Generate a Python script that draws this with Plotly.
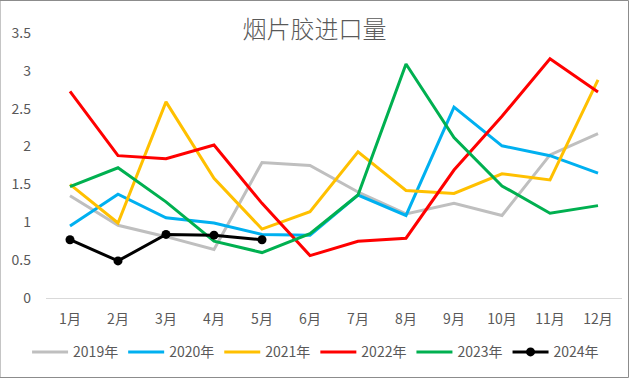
import plotly.graph_objects as go

months = ["1月", "2月", "3月", "4月", "5月", "6月", "7月", "8月", "9月", "10月", "11月", "12月"]
s2019 = [1.35, 0.96, 0.81, 0.64, 1.79, 1.75, 1.40, 1.11, 1.25, 1.09, 1.89, 2.17]
s2020 = [0.95, 1.37, 1.06, 0.99, 0.84, 0.83, 1.36, 1.09, 2.52, 2.01, 1.88, 1.65]
s2021 = [1.50, 0.99, 2.59, 1.58, 0.91, 1.14, 1.93, 1.42, 1.38, 1.64, 1.56, 2.88]
s2022 = [2.73, 1.88, 1.84, 2.02, 1.25, 0.56, 0.75, 0.79, 1.69, 2.40, 3.16, 2.72]
s2023 = [1.47, 1.72, 1.27, 0.75, 0.60, 0.85, 1.36, 3.09, 2.12, 1.48, 1.12, 1.22]
s2024 = [0.77, 0.49, 0.84, 0.83, 0.77]

series = [
    ("2019年", s2019, "#BFBFBF"),
    ("2020年", s2020, "#00B0F0"),
    ("2021年", s2021, "#FFC000"),
    ("2022年", s2022, "#FF0000"),
    ("2023年", s2023, "#00B050"),
]

font = "Noto Sans CJK SC"
fig = go.Figure()
for name, vals, col in series:
    fig.add_trace(go.Scatter(x=months[:len(vals)], y=vals, name=name, mode="lines",
                             line=dict(color=col, width=3)))
fig.add_trace(go.Scatter(x=months[:len(s2024)], y=s2024, name="2024年", mode="lines+markers",
                         line=dict(color="#000000", width=3),
                         marker=dict(color="#000000", size=9)))

fig.update_layout(
    width=629, height=378,
    margin=dict(l=46, r=7, t=33, b=80),
    paper_bgcolor="white", plot_bgcolor="white",
    font=dict(family=font, color="#595959", size=14),
    title=dict(text="烟片胶进口量", x=0.5, xanchor="center", y=0.922, yanchor="middle",
               font=dict(size=24, color="#595959", family=font, weight=300)),
    showlegend=True,
    legend=dict(orientation="h", x=0.468, xanchor="center", y=-0.205, yanchor="middle",
                font=dict(size=14, color="#595959"), itemwidth=36, tracegroupgap=0),
    xaxis=dict(type="category", categoryorder="array", categoryarray=months,
               showgrid=False, showline=True, linecolor="#D9D9D9", linewidth=1,
               ticks="", tickfont=dict(size=14, color="#595959"), range=[-0.5, 11.5],
               ticklabelstandoff=8, automargin=False),
    yaxis=dict(range=[0, 3.5], dtick=0.5, showgrid=False, zeroline=False, showline=False,
               tickfont=dict(size=14, color="#595959"), ticks="", ticklabelstandoff=14,
               tickformat="~g", automargin=False),
    shapes=[dict(type="rect", xref="paper", yref="paper",
                 x0=-46/576, x1=(628.5-46)/576, y0=(298-377.5)/265, y1=(298-0.5)/265,
                 line=dict(color="#8C8C8C", width=1), fillcolor="rgba(0,0,0,0)", layer="below")],
)

fig.write_html("out.html", config={"displayModeBar": False},
               post_script="document.body.style.margin='0';")
